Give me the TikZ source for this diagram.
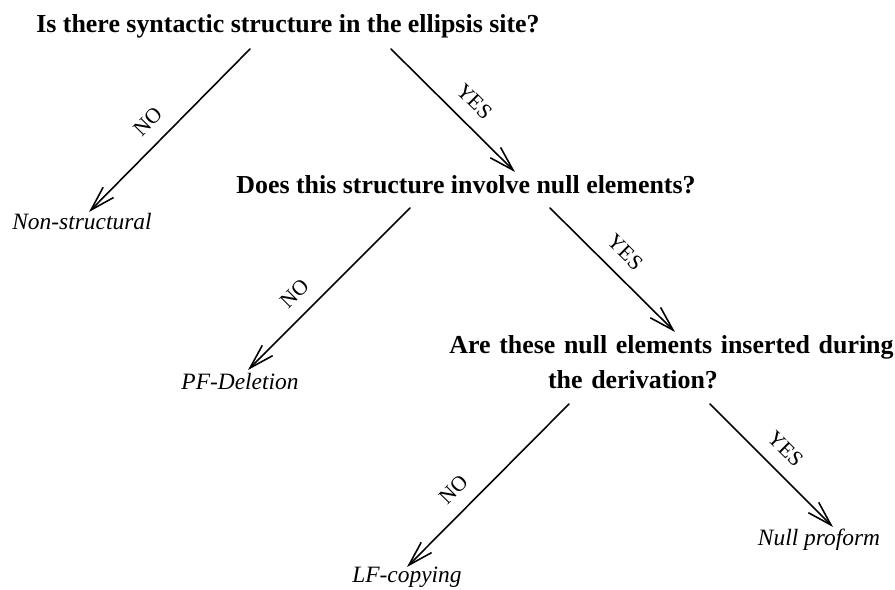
\documentclass[tikz,border=0pt]{standalone}
\usepackage{fontspec}
\setmainfont{Liberation Serif}
\usetikzlibrary{arrows.meta,calc}
\tikzset{
  question/.style={font=\bfseries\fontsize{11.5}{15.5}\selectfont, inner sep=0pt},
  answer/.style={font=\itshape\fontsize{10.4}{12}\selectfont, inner sep=0pt},
  branch/.style={line width=0.7pt, -{Straight Barb[length=11pt,width=6.5pt]}},
  lbl/.style={font=\fontsize{9.5}{11}\selectfont, sloped, above=4pt, inner sep=2pt}
}
\begin{document}
\begin{tikzpicture}[x=0.444pt, y=-0.444pt, line cap=round, line join=round]
\useasboundingbox (0,0) rectangle (895,590);

\node[question, anchor=base] (q1) at (288,33) {Is there syntactic structure in the ellipsis site?};
\node[question, anchor=base] (q2) at (466,194) {Does this structure involve null elements?};
\node[question, anchor=north, text width=163pt, align=center] (q3) at (633,335)
  {\mbox{Are these null elements inserted during}\\ the derivation?};

\node[answer, anchor=base] (nonstr) at (82,230) {Non-structural};
\node[answer, anchor=base] (pfdel) at (240,390) {PF-Deletion};
\node[answer, anchor=base] (lfcopy) at (407,583) {LF-copying};
\node[answer, anchor=base] (nullpro) at (819,546) {Null proform};

\draw[branch] ($(q1.base)+(-38,16)$) -- node[lbl, pos=0.54] {NO} ($(nonstr.base)+(7,-18)$);
\draw[branch] ($(q1.base)+(103,16)$) -- node[lbl, pos=0.55] {YES} ($(q2.base)+(49,-22)$);

\draw[branch] ($(q2.base)+(-56,14)$) -- node[lbl, pos=0.62] {NO} ($(pfdel.base)+(8,-20)$);
\draw[branch] ($(q2.base)+(84,14)$) -- node[lbl, pos=0.48] {YES} ($(q3.north)+(42,-3)$);

\draw[branch] ($(q3.north)+(-64,69)$) -- node[lbl, pos=0.62] {NO} ($(lfcopy.base)+(0,-16)$);
\draw[branch] ($(q3.north)+(77,69)$) -- node[lbl, pos=0.49] {YES} ($(nullpro.base)+(14,-19)$);
\end{tikzpicture}
\end{document}
